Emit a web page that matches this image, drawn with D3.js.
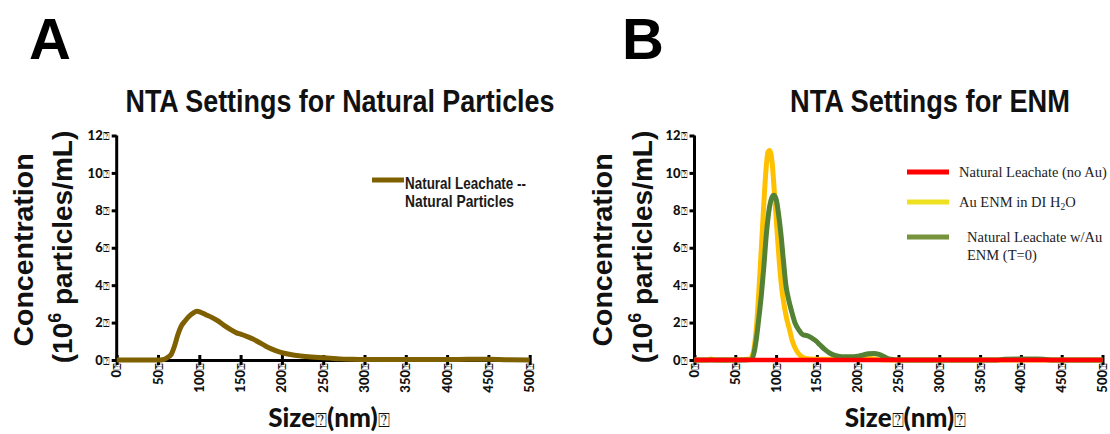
<!DOCTYPE html>
<html>
<head>
<meta charset="utf-8">
<script src="https://cdn.jsdelivr.net/npm/d3@7"></script>
<style>
  html, body { margin: 0; padding: 0; background: #fff; }
  svg { display: block; }
</style>
</head>
<body>
<svg id="chart" width="1110" height="434"></svg>
<script>
// Axis ticks
const xTicks = [0, 50, 100, 150, 200, 250, 300, 350, 400, 450, 500];
const yTicks = [0, 2, 4, 6, 8, 10, 12];

// Panel A: natural leachate, natural-particle settings (size nm, conc 10^6/mL)
const leachateSize = [0, 50, 57, 62, 66, 70, 74, 78, 83, 88, 93, 97, 102, 108, 115, 122, 130, 138, 145, 150, 158, 165, 172, 180, 188, 195, 203, 212, 222, 232, 245, 258, 270, 285, 300, 340, 400, 450, 470, 500];
const leachateConc = [0, 0, 0.03, 0.15, 0.3, 0.75, 1.35, 1.8, 2.1, 2.35, 2.52, 2.6, 2.55, 2.42, 2.28, 2.1, 1.85, 1.62, 1.45, 1.38, 1.25, 1.12, 0.95, 0.75, 0.58, 0.46, 0.36, 0.28, 0.22, 0.17, 0.14, 0.1, 0.06, 0.04, 0.03, 0.03, 0.03, 0.04, 0.02, 0];

// Panel B: ENM settings
const noAuSize = [0, 500];
const noAuConc = [0, 0];

const auWaterSize = [0, 15, 20, 25, 40, 60, 68, 72, 76, 80, 84, 87, 90, 92, 95, 98, 101, 104, 107, 110, 113, 116, 120, 125, 130, 135, 142, 150, 175, 190, 200, 215, 225, 240, 500];
const auWaterConc = [0, 0, 0.06, 0, 0, 0.02, 0.05, 0.4, 1.8, 4.5, 7.6, 9.8, 11.1, 11.2, 10.6, 8.9, 7.0, 5.2, 3.8, 2.9, 2.2, 1.7, 1.0, 0.5, 0.22, 0.1, 0.05, 0.04, 0.03, 0.08, 0.1, 0.08, 0.02, 0, 0];

const leachateAuSize = [0, 60, 70, 73, 76, 79, 82, 85, 88, 92, 95, 97, 100, 103, 106, 109, 112, 115, 119, 123, 128, 133, 138, 143, 148, 154, 160, 166, 172, 180, 190, 200, 207, 213, 220, 226, 232, 238, 245, 255, 300, 370, 380, 400, 420, 430, 440, 500];
const leachateAuConc = [0, 0, 0.02, 0.4, 1.2, 2.3, 3.5, 5.0, 6.7, 8.2, 8.7, 8.8, 8.6, 7.8, 6.7, 5.3, 4.0, 3.3, 2.6, 2.0, 1.6, 1.35, 1.3, 1.2, 1.05, 0.8, 0.55, 0.36, 0.25, 0.18, 0.17, 0.2, 0.27, 0.33, 0.35, 0.3, 0.18, 0.06, 0.02, 0, 0, 0, 0.04, 0.05, 0.05, 0.03, 0, 0];

const svg = d3.select("#chart");
const TOFU = "\u2370";

function zip(xs, ys) { return xs.map((x, i) => [x, ys[i]]); }

function addTofu(sel, size) {
  sel.append("tspan").attr("font-size", size).attr("font-family", "DejaVu Sans")
    .attr("font-weight", "normal").text(TOFU);
}

function drawPanel(opt) {
  const x = d3.scaleLinear().domain([0, 500]).range([opt.x0, opt.x1]);
  const y = d3.scaleLinear().domain([0, 12]).range([360, 135.5]);
  const g = svg.append("g");

  // panel letter
  g.append("text").attr("x", opt.letterX).attr("y", 59)
    .attr("font-family", "Liberation Sans, Arial, sans-serif")
    .attr("font-weight", "bold").attr("font-size", 58).attr("fill", "#000")
    .text(opt.letter);

  // title
  g.append("text").attr("x", opt.titleX).attr("y", 112)
    .attr("text-anchor", "middle")
    .attr("font-family", "Liberation Sans Narrow, Liberation Sans, Arial, sans-serif")
    .attr("font-weight", "bold").attr("font-size", 31).attr("fill", "#111")
    .attr("textLength", opt.titleW).attr("lengthAdjust", "spacingAndGlyphs")
    .text(opt.title);

  // y axis
  const yAxis = g.append("g").attr("transform", `translate(${opt.x0},0)`)
    .call(d3.axisLeft(y).tickValues(yTicks).tickSize(5).tickSizeOuter(0).tickPadding(2));
  yAxis.select(".domain").attr("stroke", "#000").attr("stroke-width", 3)
    .attr("d", `M0,${y(0) + 1.5}V${y(12)}`);
  yAxis.selectAll(".tick line").attr("stroke", "#000").attr("stroke-width", 3);
  yAxis.selectAll(".tick text")
    .attr("font-family", "Lato, Open Sans, sans-serif").attr("font-weight", "900")
    .attr("font-size", 13).attr("fill", "#111")
    .text(null)
    .each(function (d) {
      const t = d3.select(this);
      t.append("tspan").text(d);
      addTofu(t, 11);
    });

  // x axis
  const xAxis = g.append("g").attr("transform", `translate(0,${y(0)})`)
    .call(d3.axisBottom(x).tickValues(xTicks).tickSize(5).tickSizeOuter(0));
  xAxis.select(".domain").attr("stroke", "#000").attr("stroke-width", 3);
  xAxis.selectAll(".tick line").attr("stroke", "#000").attr("stroke-width", 3).attr("y1", -5);
  xAxis.selectAll(".tick text")
    .attr("font-family", "Lato, Open Sans, sans-serif").attr("font-weight", "900")
    .attr("font-size", 13).attr("fill", "#111")
    .attr("text-anchor", "end").attr("dy", null)
    .attr("transform", "translate(4,3) rotate(-90)")
    .attr("x", 0).attr("y", 0)
    .text(null)
    .each(function (d) {
      const t = d3.select(this);
      t.append("tspan").text(d);
      addTofu(t, 11);
    });

  // y axis title (two lines)
  g.append("text")
    .attr("transform", `translate(${opt.yl1},250) rotate(-90)`)
    .attr("text-anchor", "middle")
    .attr("font-family", "Liberation Sans, Arial, sans-serif")
    .attr("font-weight", "bold").attr("font-size", 28.5).attr("fill", "#111")
    .text("Concentration");
  const yl2 = g.append("text")
    .attr("transform", `translate(${opt.yl2},247) rotate(-90)`)
    .attr("text-anchor", "middle")
    .attr("font-family", "Liberation Sans, Arial, sans-serif")
    .attr("font-weight", "bold").attr("font-size", 28).attr("fill", "#111");
  yl2.append("tspan").text("(10");
  yl2.append("tspan").attr("font-size", 18).attr("dy", -11).text("6");
  yl2.append("tspan").attr("dy", 11).text(" particles/mL)");

  // x axis title
  const xl = g.append("text").attr("x", opt.xlX).attr("y", 427)
    .attr("text-anchor", "middle")
    .attr("font-family", "Lato, Open Sans, sans-serif")
    .attr("font-weight", "900").attr("font-size", 26).attr("fill", "#111");
  xl.append("tspan").text("Size");
  addTofu(xl, 20);
  xl.append("tspan").text("(nm)");
  addTofu(xl, 20);

  const line = d3.line().x(d => x(d[0])).y(d => y(d[1])).curve(d3.curveMonotoneX);
  opt.series.forEach(s => {
    g.append("path").datum(zip(s.size, s.conc))
      .attr("fill", "none").attr("stroke", s.color).attr("stroke-width", s.width)
      .attr("stroke-linejoin", "round").attr("stroke-linecap", "butt")
      .attr("d", line);
  });
  return g;
}

// Panel A
const gA = drawPanel({
  letter: "A", letterX: 29, title: "NTA Settings for Natural Particles", titleX: 340, titleW: 429,
  x0: 116.7, x1: 529.7, yl1: 33, yl2: 71.5, xlX: 329,
  series: [{ size: leachateSize, conc: leachateConc, color: "#7f6000", width: 5 }]
});
gA.append("line").attr("x1", 372).attr("x2", 404).attr("y1", 180).attr("y2", 180)
  .attr("stroke", "#7f6000").attr("stroke-width", 5);
[["Natural Leachate --", 189, 121], ["Natural Particles", 207, 109]].forEach(([t, yy, w]) => {
  gA.append("text").attr("x", 405).attr("y", yy)
    .attr("font-family", "Liberation Sans Narrow, Liberation Sans, Arial, sans-serif")
    .attr("font-weight", "bold").attr("font-size", 16.5).attr("fill", "#1a1a1a")
    .attr("textLength", w).attr("lengthAdjust", "spacingAndGlyphs")
    .text(t);
});

// Panel B
const gB = drawPanel({
  letter: "B", letterX: 622, title: "NTA Settings for ENM", titleX: 930, titleW: 280,
  x0: 694.5, x1: 1102.5, yl1: 612, yl2: 651.5, xlX: 905.5,
  series: [
    { size: auWaterSize, conc: auWaterConc, color: "#ffc000", width: 5 },
    { size: leachateAuSize, conc: leachateAuConc, color: "#548235", width: 5 },
    { size: noAuSize, conc: noAuConc, color: "#ff0000", width: 4.5 }
  ]
});

const legendB = [
  { color: "#ff0000", y: 172, lines: [["Natural Leachate (no Au)", 959, 176.5]] },
  { color: "#f0e022", y: 202, lines: [["Au ENM in DI H", 959, 207]], sub: true },
  { color: "#77933c", y: 237, lines: [["Natural Leachate w/Au", 967, 241.5], ["ENM (T=0)", 967, 260]] }
];
legendB.forEach(item => {
  gB.append("line").attr("x1", 907).attr("x2", 949).attr("y1", item.y).attr("y2", item.y)
    .attr("stroke", item.color).attr("stroke-width", 5);
  item.lines.forEach(([t, xx, yy]) => {
    const tx = gB.append("text").attr("x", xx).attr("y", yy)
      .attr("font-family", "Liberation Serif, Times New Roman, serif")
      .attr("font-size", 14.5).attr("fill", "#222");
    tx.append("tspan").text(t);
    if (item.sub) {
      tx.append("tspan").attr("font-size", 9.5).attr("dy", 3).text("2");
      tx.append("tspan").attr("dy", -3).text("O");
    }
  });
});
</script>
</body>
</html>
